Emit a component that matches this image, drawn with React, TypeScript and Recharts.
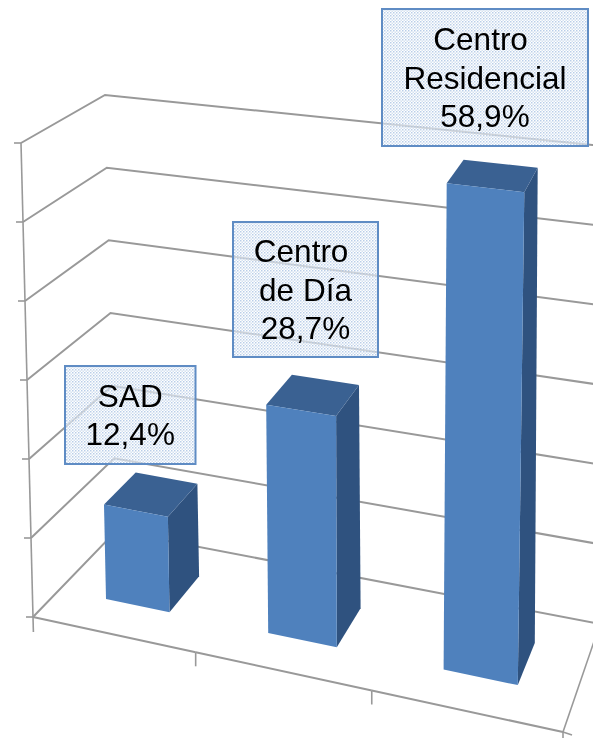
import React from "react";
import { BarChart, Bar, XAxis, YAxis, CartesianGrid, LabelList } from "recharts";

const categories = ["SAD", "Centro de Día", "Centro Residencial"];
const categoryLines = [["SAD"], ["Centro ", "de Día"], ["Centro ", "Residencial"]];
const shares = [12.4, 28.7, 58.9];
const yTicks = [0, 10, 20, 30, 40, 50, 60];

const rows = categories.map((name, i) => ({ name, share: shares[i] }));

// Chart geometry (pixels of the photograph)
const W = 593;
const H = 738;
const AXIS = 1;
const PW = W - AXIS;
const PH = H - AXIS;
type Pt = [number, number];
const FLOOR: Pt[] = [[33, 617], [563, 732], [600, 624], [116, 531]];
const CEIL: Pt[] = [[21, 143], [576, 208], [602, 146], [105, 95]];
const BOXES = [
  { x: 65, y: 366, w: 130.5, h: 98 },
  { x: 233, y: 222, w: 145, h: 135 },
  { x: 382, y: 9, w: 206, h: 137 },
];
const GRID = "#999999";
const DEPTH: [number, number] = [0.3, 0.7];
const BAR_TOP_DROP = 3;

function quad(q: Pt[], u: number, v: number): Pt {
  const [[x0, y0], [x1, y1], [x2, y2], [x3, y3]] = q;
  const dx1 = x1 - x2, dx2 = x3 - x2, sx = x0 - x1 + x2 - x3;
  const dy1 = y1 - y2, dy2 = y3 - y2, sy = y0 - y1 + y2 - y3;
  const den = dx1 * dy2 - dx2 * dy1;
  const g = (sx * dy2 - dx2 * sy) / den;
  const h = (dx1 * sy - sx * dy1) / den;
  const w = g * u + h * v + 1;
  return [
    ((x1 - x0 + g * x1) * u + (x3 - x0 + h * x3) * v + x0) / w,
    ((y1 - y0 + g * y1) * u + (y3 - y0 + h * y3) * v + y0) / w,
  ];
}
function project(u: number, v: number, h: number): Pt {
  const a = quad(FLOOR, u, v);
  const b = quad(CEIL, u, v);
  return [a[0] + (b[0] - a[0]) * h, a[1] + (b[1] - a[1]) * h];
}
const pts = (list: Pt[]) => list.map((p) => `${p[0].toFixed(1)},${p[1].toFixed(1)}`).join(" ");
const levelOf = (y: number) => 1 - y / PH;
const unitOf = (x: number) => (x - AXIS) / PW;
const lineStyle = { filter: "blur(0.6px)" };

function Bar3D(props: any) {
  const { x, y, width, height } = props;
  const u0 = unitOf(x), u1 = unitOf(x + width);
  const h1 = levelOf(y + BAR_TOP_DROP), h0 = levelOf(y + height);
  const [v0, v1] = DEPTH;
  return (
    <g style={{ filter: "blur(0.6px)" }}>
      <polygon fill="#2f527f" points={pts([project(u1, v0, h0), project(u1, v1, h0), project(u1, v1, h1), project(u1, v0, h1)])} />
      <polygon fill="#3a6192" points={pts([project(u0, v0, h1), project(u1, v0, h1), project(u1, v1, h1), project(u0, v1, h1)])} />
      <polygon fill="#4f81bd" points={pts([project(u0, v0, h0), project(u1, v0, h0), project(u1, v0, h1), project(u0, v0, h1)])} />
    </g>
  );
}

function WallLine(props: any) {
  const h = levelOf(props.y1);
  return (
    <polyline
      key={props.key}
      fill="none"
      stroke={GRID}
      strokeWidth={2}
      style={lineStyle}
      points={pts([project(0, 0, h), project(0, 1, h), project(1, 1, h)])}
    />
  );
}

function ValueTick(props: any) {
  const h = levelOf(props.y);
  const p = project(0, 0, h);
  const below = project(0, 0, Math.max(h - 1 / (yTicks.length - 1), 0));
  const end: Pt = h < 0.001 ? [p[0] + 0.4, p[1] + 15] : below;
  return (
    <g style={lineStyle} stroke={GRID} strokeWidth={1.6}>
      <line x1={p[0] - 7} y1={p[1]} x2={p[0]} y2={p[1]} />
      <line x1={p[0]} y1={p[1]} x2={end[0]} y2={end[1]} />
    </g>
  );
}

function CategoryTick(props: any) {
  const step = 1 / categories.length;
  const u = unitOf(props.x) - step / 2;
  const a = project(u, 0, 0);
  const b = project(u + step, 0, 0);
  const last = props.index === categories.length - 1;
  const far = project(1, 1, 0);
  return (
    <g style={lineStyle} stroke={GRID} strokeWidth={2}>
      <line x1={a[0]} y1={a[1]} x2={b[0]} y2={b[1]} />
      {props.index > 0 && <line x1={a[0]} y1={a[1]} x2={a[0]} y2={a[1] + 14} strokeWidth={1.6} />}
      {last && <line x1={b[0]} y1={b[1]} x2={far[0]} y2={far[1]} strokeWidth={1.6} />}
      {last && <line x1={b[0]} y1={b[1]} x2={b[0] + 9} y2={b[1] + 3} strokeWidth={1.6} />}
      {last && <line x1={b[0]} y1={b[1]} x2={b[0]} y2={b[1] + 8} strokeWidth={1.6} />}
    </g>
  );
}

function ShareLabel(props: any) {
  const { index, value } = props;
  const box = BOXES[index];
  const lines = [...categoryLines[index], `${String(value).replace(".", ",")}%`];
  const cx = box.x + box.w / 2;
  const cy = box.y + box.h / 2 + 11;
  return (
    <g>
      <rect x={box.x} y={box.y} width={box.w} height={box.h} fill="url(#labelDots)" stroke="#5f8cc4" strokeWidth={2} />
      {lines.map((t, i) => (
        <text
          key={i}
          x={cx}
          y={cy + (i - (lines.length - 1) / 2) * 38.5}
          textAnchor="middle"
          fontFamily="'Liberation Sans', Arial, sans-serif"
          fontSize={31.5}
          fill="#000"
          style={{ filter: "blur(0.3px)", whiteSpace: "pre" }}
        >
          {t}
        </text>
      ))}
    </g>
  );
}

export default function App() {
  return (
    <div style={{ position: "absolute", left: 0, top: 0, width: W, height: H, overflow: "hidden", background: "#fff" }}>
      <BarChart
        width={W}
        height={H}
        data={rows}
        margin={{ top: 0, right: 0, bottom: 0, left: 0 }}
        barCategoryGap="30%"
      >
        <defs>
          <pattern id="labelDots" width={3} height={3} patternUnits="userSpaceOnUse">
            <rect width={3} height={3} fill="#ffffff" fillOpacity={0.55} />
            <rect width={1.5} height={1.5} fill="#a9c2e2" fillOpacity={0.8} />
            <rect x={1.5} y={1.5} width={1.5} height={1.5} fill="#c3d5ea" fillOpacity={0.7} />
          </pattern>
        </defs>
        <CartesianGrid vertical={false} horizontal={WallLine as any} syncWithTicks />
        <XAxis dataKey="name" height={AXIS} axisLine={false} tickLine={false} tick={CategoryTick as any} interval={0} />
        <YAxis
          width={AXIS}
          domain={[0, 60]}
          ticks={yTicks}
          tickCount={yTicks.length}
          interval={0}
          axisLine={false}
          tickLine={false}
          tick={ValueTick as any}
        />
        <Bar dataKey="share" shape={Bar3D as any} isAnimationActive={false}>
          <LabelList dataKey="share" content={ShareLabel as any} />
        </Bar>
      </BarChart>
    </div>
  );
}
